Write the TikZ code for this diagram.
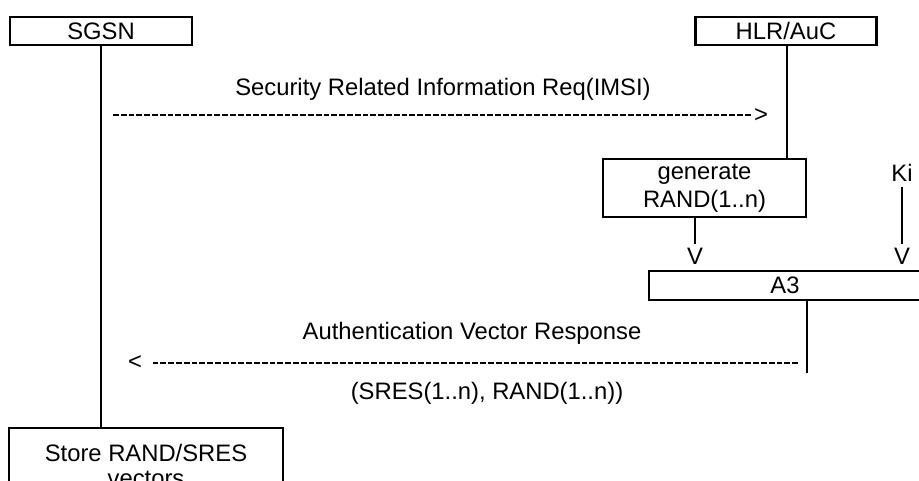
\documentclass[tikz,border=0pt]{standalone}
\usepackage{fontspec}
\setmainfont{Liberation Sans}
\begin{document}
\begin{tikzpicture}[x = 1pt, y = -1pt,
    every node/.style = {font = \fontsize{23.8}{28}\selectfont, inner sep = 0pt},
    entity/.style = {draw, line width = 2.4pt, align = center},
    lifeline/.style = {line width = 2.4pt},
    msgline/.style = {line width = 1.9pt, dash pattern = on 5.8pt off 2pt}]

    \useasboundingbox (0, 0) rectangle (919, 481);
    \clip (0, 0) rectangle (919, 481);

    \node[entity, minimum width = 182pt, minimum height = 28pt] (sgsn) at (101, 31) {SGSN};
    \node[entity, minimum width = 181pt, minimum height = 28pt] (hlr) at (786, 31) {HLR/AuC};
    \node[entity, minimum width = 203pt, minimum height = 58pt] (gen) at (704.5, 188) {generate\\RAND(1..n)};
    \node[entity, minimum width = 272pt, minimum height = 29pt] (a3) at (785, 285.5) {A3};
    \node[entity, anchor = north, minimum width = 274pt, inner ysep = 16pt,
        font = \fontsize{23.8}{25}\selectfont] (store) at (146, 427) {Store RAND/SRES\\vectors};

    \node (req) at (443, 89) {Security Related Information Req(IMSI)};
    \node (gt) at (761, 116) {>};
    \node (ki) at (902, 173) {Ki};
    \node (v1) at (695, 256) {V};
    \node (v2) at (902, 256) {V};
    \node (resp) at (472, 333) {Authentication Vector Response};
    \node (lt) at (135, 363) {<};
    \node (sres) at (487, 393) {(SRES(1..n), RAND(1..n))};

    \coordinate (rqstart) at (113, 115);
    \coordinate (rsstart) at (798, 363);
    \coordinate (rsend) at (807, 373);

    % lifelines
    \draw[lifeline] (sgsn.south) -- (sgsn.south |- store.north);
    \draw[lifeline] (hlr.south -| 787, 0) -- (gen.north -| 787, 0);
    \draw[lifeline] (gen.south -| v1) -- ([yshift = 4pt]v1.north);
    \draw[lifeline] ([yshift = -5pt]ki.south) -- ([yshift = 4pt]v2.north);
    \draw[lifeline] (a3.south -| rsend) -- (rsend);

    % messages
    \draw[msgline] (rqstart) -- ([xshift = -3pt]gt.west |- rqstart);
    \draw[msgline] (rsstart) -- ([xshift = 11pt]lt.east |- rsstart);

\end{tikzpicture}
\end{document}
